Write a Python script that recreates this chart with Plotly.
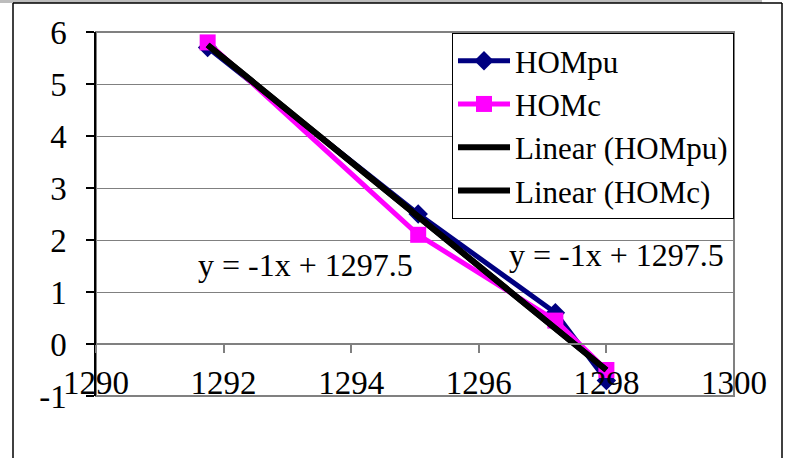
import numpy as np
import plotly.graph_objects as go

# Measurements
x_vals = [1291.75, 1295.05, 1297.2, 1298.0]
hompu = [5.7, 2.5, 0.6, -0.7]
homc = [5.8, 2.1, 0.45, -0.5]

# Linear trendlines as reported by the equation labels
trend_slope = [-1.0, -1.0]
trend_intercept = [1297.5, 1297.5]
trend_names = ["Linear (HOMpu)", "Linear (HOMc)"]

x_ticks = [1290, 1292, 1294, 1296, 1298, 1300]
y_ticks = [-1, 0, 1, 2, 3, 4, 5, 6]

W, H = 788, 458
L, R, T, B = 96, 54, 32, 62
PW, PH = W - L - R, H - T - B


def px(xp):
    return (xp - L) / PW


def py(yp):
    return (H - B - yp) / PH


FONT = "Liberation Serif"
FS = 32
TICKFONT = dict(family=FONT, size=33, color="#000000")

fig = go.Figure()

fig.add_trace(go.Scatter(
    x=x_vals, y=hompu, name="HOMpu", mode="lines+markers",
    line=dict(color="#000080", width=5),
    marker=dict(symbol="diamond", size=15, color="#000080"),
    legendgroup="a",
))
fig.add_trace(go.Scatter(
    x=x_vals, y=homc, name="HOMc", mode="lines+markers",
    line=dict(color="#FF00FF", width=5),
    marker=dict(symbol="square", size=16, color="#FF00FF"),
    legendgroup="b",
))
for i, (m, c) in enumerate(zip(trend_slope, trend_intercept)):
    xs = np.array([min(x_vals), max(x_vals)])
    fig.add_trace(go.Scatter(
        x=xs, y=m * xs + c, name=trend_names[i], mode="lines",
        line=dict(color="#000000", width=6),
        legendgroup="c%d" % i,
    ))

shapes = [
    # chart frame
    dict(type="rect", xref="paper", yref="paper",
         x0=px(0), x1=px(762), y0=py(3), y1=py(0),
         fillcolor="#bdbdbd", line=dict(width=0), layer="below"),
    dict(type="line", xref="paper", yref="paper",
         x0=px(13), x1=px(782), y0=py(3), y1=py(3),
         line=dict(color="#000000", width=1.5)),
    dict(type="line", xref="paper", yref="paper",
         x0=px(13), x1=px(13), y0=py(3), y1=py(470),
         line=dict(color="#000000", width=1.5)),
    dict(type="line", xref="paper", yref="paper",
         x0=px(782), x1=px(782), y0=py(3), y1=py(470),
         line=dict(color="#000000", width=1.5)),
    # plot area border
    dict(type="rect", xref="paper", yref="paper",
         x0=0, x1=1, y0=0, y1=1,
         line=dict(color="#808080", width=2), layer="below"),
]

annotations = [
    dict(text="y = -1x + 1297.5", xref="paper", yref="paper",
         x=px(305), y=py(265), xanchor="center", yanchor="middle",
         showarrow=False,
         font=dict(family=FONT, size=FS, color="#000000")),
    dict(text="y = -1x + 1297.5", xref="paper", yref="paper",
         x=px(616), y=py(255), xanchor="center", yanchor="middle",
         showarrow=False,
         font=dict(family=FONT, size=FS, color="#000000")),
]

fig.update_layout(
    width=W, height=H,
    margin=dict(l=L, r=R, t=T, b=B),
    paper_bgcolor="#ffffff", plot_bgcolor="#ffffff",
    font=dict(family=FONT, size=FS, color="#000000"),
    shapes=shapes,
    annotations=annotations,
    legend=dict(
        x=px(452), y=py(33), xanchor="left", yanchor="top",
        bgcolor="#ffffff", bordercolor="#000000", borderwidth=1,
        font=dict(family=FONT, size=31, color="#000000"),
        tracegroupgap=0, itemwidth=52,
    ),
    xaxis=dict(
        range=[1290, 1300], tickvals=x_ticks, ticktext=[str(v) for v in x_ticks],
        tickfont=TICKFONT, tickangle=0,
        showgrid=False, zeroline=False,
        showline=True, linecolor="#808080", linewidth=1.5,
        ticks="outside", ticklen=8, tickcolor="#808080", tickwidth=1.5,
        anchor="free", position=(0 - (-1)) / 7,
        ticklabelstandoff=2,
    ),
    yaxis=dict(
        range=[-1, 6], tickvals=y_ticks, ticktext=[str(v) for v in y_ticks],
        tickfont=TICKFONT,
        showgrid=True, gridcolor="#808080", gridwidth=1,
        zeroline=False,
        showline=True, linecolor="#000000", linewidth=1.5,
        ticks="outside", ticklen=8, tickcolor="#000000", tickwidth=1.5,
        ticklabelstandoff=13,
    ),
)

fig.write_html("out.html")
